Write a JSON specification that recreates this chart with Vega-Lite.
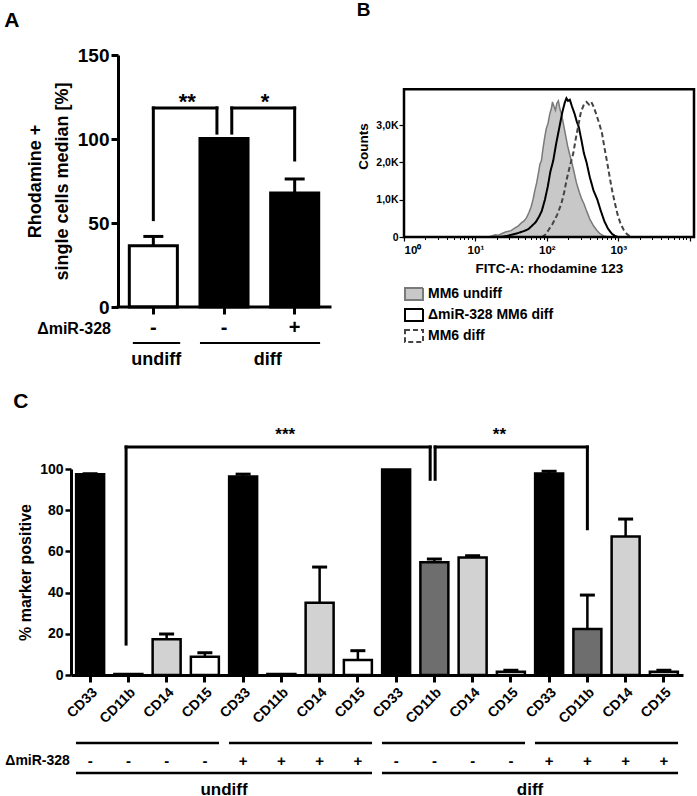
{
  "$schema": "https://vega.github.io/schema/vega-lite/v6.json",
  "background": "white",
  "padding": {"left": 4, "top": 1, "right": 1, "bottom": 0},
  "config": {
    "font": "Liberation Sans",
    "view": {"stroke": null},
    "axis": {"labelFontWeight": "bold", "titleFontWeight": "bold", "labelColor": "black", "titleColor": "black", "domainColor": "black", "tickColor": "black", "grid": false, "labelFont": "Liberation Sans", "titleFont": "Liberation Sans"},
    "legend": {"labelFontWeight": "bold", "labelColor": "black", "labelFont": "Liberation Sans"},
    "title": {"fontWeight": "bold", "color": "black", "anchor": "start", "frame": "bounds", "font": "Liberation Sans"},
    "text": {"fontWeight": "bold", "color": "black", "font": "Liberation Sans"}
  },
  "datasets": {
    "rhod": [
      {"grp": 1, "cond": "undiff", "mir": "-", "value": 36.5, "err": 42},
      {"grp": 2, "cond": "diff", "mir": "-", "value": 100.3, "err": null},
      {"grp": 3, "cond": "diff", "mir": "+", "value": 67.8, "err": 76.2}
    ],
    "rhodAnno": [
      {"kind": "rule", "x": 0, "x2": 3, "y": 0, "y2": 0},
      {"kind": "rule", "x": 0.5, "x2": 0.5, "y": 52, "y2": 118.5},
      {"kind": "rule", "x": 0.5, "x2": 1.4, "y": 118.5, "y2": 118.5},
      {"kind": "rule", "x": 1.4, "x2": 1.4, "y": 118.5, "y2": 103.5},
      {"kind": "rule", "x": 1.61, "x2": 1.61, "y": 103.5, "y2": 118.5},
      {"kind": "rule", "x": 1.61, "x2": 2.5, "y": 118.5, "y2": 118.5},
      {"kind": "rule", "x": 2.5, "x2": 2.5, "y": 118.5, "y2": 87.5},
      {"kind": "line", "x": 0.21, "x2": 0.88, "y": -21.4, "y2": -21.4},
      {"kind": "line", "x": 1.16, "x2": 2.86, "y": -21.4, "y2": -21.4},
      {"kind": "star", "x": 0.98, "y": 122, "label": "**"},
      {"kind": "star", "x": 2.08, "y": 122, "label": "*"},
      {"kind": "group", "x": 0.54, "y": -34.5, "label": "undiff"},
      {"kind": "group", "x": 2.12, "y": -34.5, "label": "diff"},
      {"kind": "mir", "x": -0.1, "y": -16.1, "label": "ΔmiR-328"}
    ],
    "hist": [
      {"sample": "MM6 undiff", "fitc": 14.8, "count": 0},
      {"sample": "MM6 undiff", "fitc": 17, "count": 30},
      {"sample": "MM6 undiff", "fitc": 19, "count": 60},
      {"sample": "MM6 undiff", "fitc": 21, "count": 50},
      {"sample": "MM6 undiff", "fitc": 24, "count": 100},
      {"sample": "MM6 undiff", "fitc": 27, "count": 140},
      {"sample": "MM6 undiff", "fitc": 31.6, "count": 170},
      {"sample": "MM6 undiff", "fitc": 35, "count": 230},
      {"sample": "MM6 undiff", "fitc": 40, "count": 300},
      {"sample": "MM6 undiff", "fitc": 44, "count": 380},
      {"sample": "MM6 undiff", "fitc": 48, "count": 430},
      {"sample": "MM6 undiff", "fitc": 52, "count": 520},
      {"sample": "MM6 undiff", "fitc": 56, "count": 650},
      {"sample": "MM6 undiff", "fitc": 60, "count": 800},
      {"sample": "MM6 undiff", "fitc": 64, "count": 1000},
      {"sample": "MM6 undiff", "fitc": 68, "count": 1250},
      {"sample": "MM6 undiff", "fitc": 72, "count": 1450},
      {"sample": "MM6 undiff", "fitc": 76, "count": 1700},
      {"sample": "MM6 undiff", "fitc": 80, "count": 1950},
      {"sample": "MM6 undiff", "fitc": 84, "count": 2050},
      {"sample": "MM6 undiff", "fitc": 88, "count": 2350},
      {"sample": "MM6 undiff", "fitc": 93, "count": 2650},
      {"sample": "MM6 undiff", "fitc": 98, "count": 2900},
      {"sample": "MM6 undiff", "fitc": 104, "count": 3050},
      {"sample": "MM6 undiff", "fitc": 110, "count": 3300},
      {"sample": "MM6 undiff", "fitc": 116, "count": 3450},
      {"sample": "MM6 undiff", "fitc": 120, "count": 3620},
      {"sample": "MM6 undiff", "fitc": 126, "count": 3500},
      {"sample": "MM6 undiff", "fitc": 132, "count": 3400},
      {"sample": "MM6 undiff", "fitc": 138, "count": 3580},
      {"sample": "MM6 undiff", "fitc": 145, "count": 3650},
      {"sample": "MM6 undiff", "fitc": 152, "count": 3450},
      {"sample": "MM6 undiff", "fitc": 160, "count": 3300},
      {"sample": "MM6 undiff", "fitc": 170, "count": 3050},
      {"sample": "MM6 undiff", "fitc": 182, "count": 2750},
      {"sample": "MM6 undiff", "fitc": 195, "count": 2450},
      {"sample": "MM6 undiff", "fitc": 210, "count": 2200},
      {"sample": "MM6 undiff", "fitc": 224, "count": 2000},
      {"sample": "MM6 undiff", "fitc": 240, "count": 1750},
      {"sample": "MM6 undiff", "fitc": 260, "count": 1450},
      {"sample": "MM6 undiff", "fitc": 285, "count": 1200},
      {"sample": "MM6 undiff", "fitc": 310, "count": 1000},
      {"sample": "MM6 undiff", "fitc": 330, "count": 900},
      {"sample": "MM6 undiff", "fitc": 360, "count": 700},
      {"sample": "MM6 undiff", "fitc": 400, "count": 480},
      {"sample": "MM6 undiff", "fitc": 450, "count": 300},
      {"sample": "MM6 undiff", "fitc": 500, "count": 180},
      {"sample": "MM6 undiff", "fitc": 560, "count": 80},
      {"sample": "MM6 undiff", "fitc": 630, "count": 30},
      {"sample": "MM6 undiff", "fitc": 740, "count": 0},
      {"sample": "ΔmiR-328 MM6 diff", "fitc": 22, "count": 0},
      {"sample": "ΔmiR-328 MM6 diff", "fitc": 28, "count": 30},
      {"sample": "ΔmiR-328 MM6 diff", "fitc": 32, "count": 60},
      {"sample": "ΔmiR-328 MM6 diff", "fitc": 40, "count": 110},
      {"sample": "ΔmiR-328 MM6 diff", "fitc": 48, "count": 160},
      {"sample": "ΔmiR-328 MM6 diff", "fitc": 55, "count": 210},
      {"sample": "ΔmiR-328 MM6 diff", "fitc": 62, "count": 300},
      {"sample": "ΔmiR-328 MM6 diff", "fitc": 70, "count": 400},
      {"sample": "ΔmiR-328 MM6 diff", "fitc": 78, "count": 550},
      {"sample": "ΔmiR-328 MM6 diff", "fitc": 85, "count": 700},
      {"sample": "ΔmiR-328 MM6 diff", "fitc": 94, "count": 1000},
      {"sample": "ΔmiR-328 MM6 diff", "fitc": 103, "count": 1350},
      {"sample": "ΔmiR-328 MM6 diff", "fitc": 112, "count": 1750},
      {"sample": "ΔmiR-328 MM6 diff", "fitc": 123, "count": 2050},
      {"sample": "ΔmiR-328 MM6 diff", "fitc": 135, "count": 2500},
      {"sample": "ΔmiR-328 MM6 diff", "fitc": 152, "count": 3000},
      {"sample": "ΔmiR-328 MM6 diff", "fitc": 165, "count": 3350},
      {"sample": "ΔmiR-328 MM6 diff", "fitc": 178, "count": 3600},
      {"sample": "ΔmiR-328 MM6 diff", "fitc": 188, "count": 3720},
      {"sample": "ΔmiR-328 MM6 diff", "fitc": 198, "count": 3650},
      {"sample": "ΔmiR-328 MM6 diff", "fitc": 210, "count": 3680},
      {"sample": "ΔmiR-328 MM6 diff", "fitc": 225, "count": 3500},
      {"sample": "ΔmiR-328 MM6 diff", "fitc": 245, "count": 3300},
      {"sample": "ΔmiR-328 MM6 diff", "fitc": 262, "count": 3100},
      {"sample": "ΔmiR-328 MM6 diff", "fitc": 280, "count": 2950},
      {"sample": "ΔmiR-328 MM6 diff", "fitc": 305, "count": 2600},
      {"sample": "ΔmiR-328 MM6 diff", "fitc": 330, "count": 2250},
      {"sample": "ΔmiR-328 MM6 diff", "fitc": 360, "count": 2000},
      {"sample": "ΔmiR-328 MM6 diff", "fitc": 400, "count": 1600},
      {"sample": "ΔmiR-328 MM6 diff", "fitc": 450, "count": 1250},
      {"sample": "ΔmiR-328 MM6 diff", "fitc": 510, "count": 1000},
      {"sample": "ΔmiR-328 MM6 diff", "fitc": 570, "count": 700},
      {"sample": "ΔmiR-328 MM6 diff", "fitc": 640, "count": 420},
      {"sample": "ΔmiR-328 MM6 diff", "fitc": 720, "count": 220},
      {"sample": "ΔmiR-328 MM6 diff", "fitc": 820, "count": 80},
      {"sample": "ΔmiR-328 MM6 diff", "fitc": 910, "count": 25},
      {"sample": "ΔmiR-328 MM6 diff", "fitc": 990, "count": 0},
      {"sample": "MM6 diff", "fitc": 85, "count": 0},
      {"sample": "MM6 diff", "fitc": 95, "count": 60},
      {"sample": "MM6 diff", "fitc": 105, "count": 180},
      {"sample": "MM6 diff", "fitc": 120, "count": 350},
      {"sample": "MM6 diff", "fitc": 140, "count": 600},
      {"sample": "MM6 diff", "fitc": 160, "count": 900},
      {"sample": "MM6 diff", "fitc": 175, "count": 1200},
      {"sample": "MM6 diff", "fitc": 190, "count": 1550},
      {"sample": "MM6 diff", "fitc": 210, "count": 1900},
      {"sample": "MM6 diff", "fitc": 235, "count": 2250},
      {"sample": "MM6 diff", "fitc": 255, "count": 2650},
      {"sample": "MM6 diff", "fitc": 277, "count": 3000},
      {"sample": "MM6 diff", "fitc": 300, "count": 3350},
      {"sample": "MM6 diff", "fitc": 330, "count": 3550},
      {"sample": "MM6 diff", "fitc": 360, "count": 3620},
      {"sample": "MM6 diff", "fitc": 390, "count": 3550},
      {"sample": "MM6 diff", "fitc": 420, "count": 3620},
      {"sample": "MM6 diff", "fitc": 450, "count": 3500},
      {"sample": "MM6 diff", "fitc": 490, "count": 3300},
      {"sample": "MM6 diff", "fitc": 540, "count": 3050},
      {"sample": "MM6 diff", "fitc": 590, "count": 2800},
      {"sample": "MM6 diff", "fitc": 640, "count": 2400},
      {"sample": "MM6 diff", "fitc": 700, "count": 2000},
      {"sample": "MM6 diff", "fitc": 760, "count": 1600},
      {"sample": "MM6 diff", "fitc": 830, "count": 1200},
      {"sample": "MM6 diff", "fitc": 900, "count": 900},
      {"sample": "MM6 diff", "fitc": 980, "count": 600},
      {"sample": "MM6 diff", "fitc": 1080, "count": 350},
      {"sample": "MM6 diff", "fitc": 1200, "count": 180},
      {"sample": "MM6 diff", "fitc": 1320, "count": 80},
      {"sample": "MM6 diff", "fitc": 1450, "count": 20},
      {"sample": "MM6 diff", "fitc": 1500, "count": 0}
    ],
    "markers": [
      {"idx": 1, "marker": "CD33", "cond": "undiff", "mir": "-", "value": 97.5, "err": 97.7},
      {"idx": 2, "marker": "CD11b", "cond": "undiff", "mir": "-", "value": 0.5, "err": null},
      {"idx": 3, "marker": "CD14", "cond": "undiff", "mir": "-", "value": 17.4, "err": 19.9},
      {"idx": 4, "marker": "CD15", "cond": "undiff", "mir": "-", "value": 8.8, "err": 10.8},
      {"idx": 5, "marker": "CD33", "cond": "undiff", "mir": "+", "value": 96.3, "err": 97.5},
      {"idx": 6, "marker": "CD11b", "cond": "undiff", "mir": "+", "value": 0.5, "err": null},
      {"idx": 7, "marker": "CD14", "cond": "undiff", "mir": "+", "value": 35.1, "err": 52.4},
      {"idx": 8, "marker": "CD15", "cond": "undiff", "mir": "+", "value": 7.3, "err": 11.8},
      {"idx": 9, "marker": "CD33", "cond": "diff", "mir": "-", "value": 99.7, "err": null},
      {"idx": 10, "marker": "CD11b", "cond": "diff", "mir": "-", "value": 54.7, "err": 56.3},
      {"idx": 11, "marker": "CD14", "cond": "diff", "mir": "-", "value": 57.0, "err": 57.9},
      {"idx": 12, "marker": "CD15", "cond": "diff", "mir": "-", "value": 1.6, "err": 2.3},
      {"idx": 13, "marker": "CD33", "cond": "diff", "mir": "+", "value": 97.8, "err": 98.9},
      {"idx": 14, "marker": "CD11b", "cond": "diff", "mir": "+", "value": 22.3, "err": 38.8},
      {"idx": 15, "marker": "CD14", "cond": "diff", "mir": "+", "value": 67.2, "err": 75.7},
      {"idx": 16, "marker": "CD15", "cond": "diff", "mir": "+", "value": 1.6, "err": 2.3}
    ],
    "markerAnno": [
      {"kind": "rule", "x": 1.44, "x2": 1.44, "y": 15, "y2": 110.7},
      {"kind": "rule", "x": 1.44, "x2": 9.39, "y": 110.7, "y2": 110.7},
      {"kind": "rule", "x": 9.39, "x2": 9.39, "y": 110.7, "y2": 95},
      {"kind": "rule", "x": 9.52, "x2": 9.52, "y": 95, "y2": 110.7},
      {"kind": "rule", "x": 9.52, "x2": 13.5, "y": 110.7, "y2": 110.7},
      {"kind": "rule", "x": 13.5, "x2": 13.5, "y": 110.7, "y2": 71},
      {"kind": "line", "x": 0.13, "x2": 3.87, "y": -33, "y2": -33},
      {"kind": "line", "x": 4.13, "x2": 7.87, "y": -33, "y2": -33},
      {"kind": "line", "x": 8.13, "x2": 11.87, "y": -33, "y2": -33},
      {"kind": "line", "x": 12.13, "x2": 15.87, "y": -33, "y2": -33},
      {"kind": "line", "x": 0.13, "x2": 7.87, "y": -47.6, "y2": -47.6},
      {"kind": "line", "x": 8.13, "x2": 15.87, "y": -47.6, "y2": -47.6},
      {"kind": "star", "x": 5.6, "y": 116.5, "label": "***"},
      {"kind": "star", "x": 11.2, "y": 116.5, "label": "**"},
      {"kind": "group", "x": 4.0, "y": -58.3, "label": "undiff"},
      {"kind": "group", "x": 12.0, "y": -58.3, "label": "diff"},
      {"kind": "mir", "x": -0.03, "y": -43.7, "label": "ΔmiR-328"}
    ]
  },
  "spacing": 22,
  "resolve": {
    "scale": {"fill": "independent", "stroke": "independent", "strokeDash": "independent"},
    "legend": {"fill": "independent", "stroke": "independent", "strokeDash": "independent"}
  },
  "vconcat": [
    {
      "spacing": 23,
      "resolve": {
        "scale": {"fill": "independent", "stroke": "independent", "strokeDash": "independent"},
        "legend": {"fill": "independent", "stroke": "independent", "strokeDash": "independent"}
      },
      "hconcat": [
        {
          "title": {"text": "A", "fontSize": 21, "offset": 15, "dx": -22},
          "width": 259,
          "height": 252,
          "resolve": {"scale": {"x": "independent"}, "axis": {"x": "independent"}},
          "layer": [
            {
              "data": {"name": "rhod"},
              "layer": [
                {
                  "mark": {"type": "bar", "stroke": "black", "strokeWidth": 3},
                  "encoding": {
                    "x": {"field": "grp", "type": "ordinal", "scale": {"paddingInner": 0.32, "paddingOuter": 0.4925, "align": 0.8377},
                      "axis": {"title": null, "labelExpr": "datum.value == 3 ? '+' : '-'", "labelAngle": 0, "labelFontSize": 20, "tickSize": 7, "tickWidth": 3, "domain": false, "labelPadding": 3}},
                    "y": {"field": "value", "type": "quantitative", "scale": {"domain": [0, 150], "nice": false},
                      "axis": {"offset": -47, "values": [0, 50, 100, 150], "title": ["Rhodamine +", "single cells median [%]"], "titleFontSize": 18, "titleLineHeight": 27, "labelFontSize": 19, "tickSize": 7, "tickWidth": 3, "domainWidth": 3, "labelPadding": 2, "titlePadding": 6}},
                    "fill": {"field": "cond", "type": "nominal", "scale": {"domain": ["undiff", "diff"], "range": ["white", "black"]}, "legend": null}
                  }
                },
                {
                  "transform": [{"filter": "datum.err != null"}],
                  "mark": {"type": "rule", "strokeWidth": 3, "color": "black"},
                  "encoding": {
                    "x": {"field": "grp", "type": "ordinal"},
                    "y": {"field": "value", "type": "quantitative"},
                    "y2": {"field": "err"}
                  }
                },
                {
                  "transform": [{"filter": "datum.err != null"}],
                  "mark": {"type": "tick", "thickness": 3, "size": 20, "color": "black", "opacity": 1},
                  "encoding": {
                    "x": {"field": "grp", "type": "ordinal"},
                    "y": {"field": "err", "type": "quantitative"}
                  }
                }
              ]
            },
            {
              "data": {"name": "rhodAnno"},
              "layer": [
                {
                  "transform": [{"filter": "datum.kind == 'rule'"}],
                  "mark": {"type": "rule", "strokeWidth": 3, "color": "black", "strokeCap": "square"},
                  "encoding": {
                    "x": {"field": "x", "type": "quantitative", "scale": {"domain": [-0.665, 3], "nice": false, "zero": false}, "axis": null},
                    "x2": {"field": "x2"},
                    "y": {"field": "y", "type": "quantitative", "scale": {"domain": [0, 150], "nice": false}},
                    "y2": {"field": "y2"}
                  }
                },
                {
                  "transform": [{"filter": "datum.kind == 'line'"}],
                  "mark": {"type": "rule", "strokeWidth": 2, "color": "black"},
                  "encoding": {
                    "x": {"field": "x", "type": "quantitative"},
                    "x2": {"field": "x2"},
                    "y": {"field": "y", "type": "quantitative"},
                    "y2": {"field": "y2"}
                  }
                },
                {
                  "transform": [{"filter": "datum.kind == 'star'"}],
                  "mark": {"type": "text", "fontSize": 22, "baseline": "middle"},
                  "encoding": {
                    "x": {"field": "x", "type": "quantitative"},
                    "y": {"field": "y", "type": "quantitative"},
                    "text": {"field": "label"}
                  }
                },
                {
                  "transform": [{"filter": "datum.kind == 'group'"}],
                  "mark": {"type": "text", "fontSize": 18, "baseline": "alphabetic"},
                  "encoding": {
                    "x": {"field": "x", "type": "quantitative"},
                    "y": {"field": "y", "type": "quantitative"},
                    "text": {"field": "label"}
                  }
                },
                {
                  "transform": [{"filter": "datum.kind == 'mir'"}],
                  "mark": {"type": "text", "fontSize": 16, "baseline": "alphabetic", "align": "right"},
                  "encoding": {
                    "x": {"field": "x", "type": "quantitative"},
                    "y": {"field": "y", "type": "quantitative"},
                    "text": {"field": "label"}
                  }
                }
              ]
            }
          ]
        },
        {
          "title": {"text": "B", "fontSize": 19, "offset": 35, "dx": 0},
          "width": 290,
          "height": 182,
          "view": {"fill": "white", "stroke": null},
          "resolve": {"axis": {"x": "independent"}},
          "layer": [
            {
              "data": {"name": "hist"},
              "transform": [{"filter": "datum.sample == 'MM6 undiff'"}],
              "mark": {"type": "area", "strokeWidth": 1.5, "fillOpacity": 1},
              "encoding": {
                "x": {"field": "fitc", "type": "quantitative", "scale": {"type": "log", "domain": [1, 11500], "nice": false},
                  "axis": {"orient": "bottom", "values": [1, 10, 100, 1000, 10000], "labelExpr": "datum.value == 1 ? '10⁰' : datum.value == 10 ? '10¹' : datum.value == 100 ? '10²' : datum.value == 1000 ? '10³' : ''", "labelFontSize": 11.5, "tickSize": 4, "tickWidth": 1.2, "domain": false, "labelPadding": 3, "title": "FITC-A: rhodamine 123", "titleFontSize": 13.5, "titlePadding": 6}},
                "y": {"field": "count", "type": "quantitative", "scale": {"domain": [0, 4880], "nice": false},
                  "axis": {"values": [0, 1000, 2000, 3000], "labelExpr": "datum.value == 0 ? '0' : datum.value == 1000 ? '1,0K' : datum.value == 2000 ? '2,0K' : '3,0K'", "labelFontSize": 10.5, "tickSize": 5, "tickWidth": 1.2, "domain": false, "labelPadding": 1, "title": "Counts", "titleFontSize": 13.5, "titlePadding": 5}},
                "fill": {"field": "sample", "type": "nominal", "scale": {"domain": ["MM6 undiff", "ΔmiR-328 MM6 diff", "MM6 diff"], "range": ["#c8c8c8", "white", "white"]},
                  "legend": {"orient": "none", "legendX": 0, "legendY": 229, "title": null, "direction": "vertical", "symbolType": "M-1,-0.68H1V0.68H-1Z", "symbolSize": 324, "symbolStrokeWidth": 2, "labelFontSize": 14, "labelOffset": 4, "rowPadding": -4}},
                "stroke": {"field": "sample", "type": "nominal", "scale": {"domain": ["MM6 undiff", "ΔmiR-328 MM6 diff", "MM6 diff"], "range": ["#7a7a7a", "black", "#444444"]},
                  "legend": {"orient": "none", "legendX": 0, "legendY": 229, "title": null, "direction": "vertical", "symbolType": "M-1,-0.68H1V0.68H-1Z", "symbolSize": 324, "symbolStrokeWidth": 2, "labelFontSize": 14, "labelOffset": 4, "rowPadding": -4}}
              }
            },
            {
              "data": {"name": "hist"},
              "transform": [{"filter": "datum.sample != 'MM6 undiff'"}],
              "mark": {"type": "line", "strokeWidth": 2},
              "encoding": {
                "x": {"field": "fitc", "type": "quantitative", "axis": null},
                "y": {"field": "count", "type": "quantitative"},
                "stroke": {"field": "sample", "type": "nominal"},
                "strokeDash": {"field": "sample", "type": "nominal", "scale": {"domain": ["MM6 undiff", "ΔmiR-328 MM6 diff", "MM6 diff"], "range": [[1, 0], [1, 0], [5, 3]]},
                  "legend": {"orient": "none", "legendX": 0, "legendY": 229, "title": null, "direction": "vertical", "symbolType": "M-1,-0.68H1V0.68H-1Z", "symbolSize": 324, "symbolStrokeWidth": 2, "labelFontSize": 14, "labelOffset": 4, "rowPadding": -4}}
              }
            },
            {
              "data": {"values": [{}]},
              "mark": {"type": "rect", "fillOpacity": 0, "stroke": "black", "strokeWidth": 2.5},
              "encoding": {
                "x": {"datum": 1, "type": "quantitative", "axis": null},
                "x2": {"datum": 11500},
                "y": {"datum": 0, "type": "quantitative"},
                "y2": {"datum": 3960}
              }
            },
            {
              "data": {"name": "hist"},
              "mark": {"type": "point", "opacity": 0},
              "encoding": {
                "x": {"field": "fitc", "type": "quantitative",
                  "axis": {"orient": "bottom", "values": [2, 3, 4, 5, 6, 7, 8, 9, 20, 30, 40, 50, 60, 70, 80, 90, 200, 300, 400, 500, 600, 700, 800, 900, 2000, 3000, 4000, 5000, 6000, 7000, 8000, 9000], "labels": false, "domain": false, "tickSize": 2.5, "tickWidth": 1, "title": null}},
                "y": {"field": "count", "type": "quantitative"}
              }
            }
          ]
        }
      ]
    },
    {
      "title": {"text": "C", "fontSize": 21, "offset": 14, "dx": 8},
      "width": 612,
      "height": 206,
      "resolve": {"scale": {"x": "independent"}, "axis": {"x": "independent"}},
      "layer": [
        {
          "data": {"name": "markers"},
          "layer": [
            {
              "mark": {"type": "bar", "stroke": "black", "strokeWidth": 2.5},
              "encoding": {
                "x": {"field": "idx", "type": "ordinal", "scale": {"paddingInner": 0.268, "paddingOuter": 0.134},
                  "axis": {"title": null, "labelExpr": "['CD33','CD11b','CD14','CD15'][(datum.value - 1) % 4]", "labelAngle": -45, "labelFontSize": 14, "tickSize": 7, "tickWidth": 3, "domainWidth": 3, "labelPadding": 3}},
                "y": {"field": "value", "type": "quantitative", "scale": {"domain": [0, 100], "nice": false},
                  "axis": {"values": [0, 20, 40, 60, 80, 100], "title": "% marker positive", "titleFontSize": 16, "labelFontSize": 14, "tickSize": 6, "tickWidth": 2.5, "domainWidth": 3, "labelPadding": 2, "titlePadding": 6}},
                "fill": {"field": "marker", "type": "nominal", "scale": {"domain": ["CD33", "CD11b", "CD14", "CD15"], "range": ["black", "#6e6e6e", "#d2d2d2", "white"]}, "legend": null}
              }
            },
            {
              "transform": [{"filter": "datum.err != null"}],
              "mark": {"type": "rule", "strokeWidth": 2.5, "color": "black"},
              "encoding": {
                "x": {"field": "idx", "type": "ordinal"},
                "y": {"field": "value", "type": "quantitative"},
                "y2": {"field": "err"}
              }
            },
            {
              "transform": [{"filter": "datum.err != null"}],
              "mark": {"type": "tick", "thickness": 3, "size": 15, "color": "black", "opacity": 1},
              "encoding": {
                "x": {"field": "idx", "type": "ordinal"},
                "y": {"field": "err", "type": "quantitative"}
              }
            },
            {
              "mark": {"type": "text", "fontSize": 15, "baseline": "middle"},
              "encoding": {
                "x": {"field": "idx", "type": "ordinal"},
                "y": {"datum": -41.7, "type": "quantitative"},
                "text": {"field": "mir"}
              }
            }
          ]
        },
        {
          "data": {"name": "markerAnno"},
          "layer": [
            {
              "transform": [{"filter": "datum.kind == 'rule'"}],
              "mark": {"type": "rule", "strokeWidth": 3, "color": "black", "strokeCap": "square"},
              "encoding": {
                "x": {"field": "x", "type": "quantitative", "scale": {"domain": [0, 16], "nice": false, "zero": false}, "axis": null},
                "x2": {"field": "x2"},
                "y": {"field": "y", "type": "quantitative", "scale": {"domain": [0, 100], "nice": false}},
                "y2": {"field": "y2"}
              }
            },
            {
              "transform": [{"filter": "datum.kind == 'line'"}],
              "mark": {"type": "rule", "strokeWidth": 2.5, "color": "black"},
              "encoding": {
                "x": {"field": "x", "type": "quantitative"},
                "x2": {"field": "x2"},
                "y": {"field": "y", "type": "quantitative"},
                "y2": {"field": "y2"}
              }
            },
            {
              "transform": [{"filter": "datum.kind == 'star'"}],
              "mark": {"type": "text", "fontSize": 17, "baseline": "middle"},
              "encoding": {
                "x": {"field": "x", "type": "quantitative"},
                "y": {"field": "y", "type": "quantitative"},
                "text": {"field": "label"}
              }
            },
            {
              "transform": [{"filter": "datum.kind == 'group'"}],
              "mark": {"type": "text", "fontSize": 17, "baseline": "alphabetic"},
              "encoding": {
                "x": {"field": "x", "type": "quantitative"},
                "y": {"field": "y", "type": "quantitative"},
                "text": {"field": "label"}
              }
            },
            {
              "transform": [{"filter": "datum.kind == 'mir'"}],
              "mark": {"type": "text", "fontSize": 14, "baseline": "alphabetic", "align": "right"},
              "encoding": {
                "x": {"field": "x", "type": "quantitative"},
                "y": {"field": "y", "type": "quantitative"},
                "text": {"field": "label"}
              }
            }
          ]
        }
      ]
    }
  ]
}
